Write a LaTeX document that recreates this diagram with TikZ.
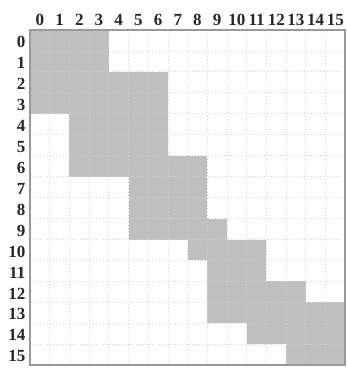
\documentclass[tikz,border=0pt]{standalone}
\usepackage{fontspec}
\setmainfont{Liberation Serif}
\usetikzlibrary{positioning}
\definecolor{blockcol}{gray}{0.75}
\definecolor{dotcol}{gray}{0.82}
\definecolor{framecol}{gray}{0.6}

\begin{document}
\begin{tikzpicture}[
    x=19.7pt, y=-20.95pt,
    block/.style={fill=blockcol},
    gridline/.style={draw=dotcol, line width=0.8pt, dash pattern=on 0.9pt off 2.4pt},
    frame/.style={draw=framecol, line width=1.6pt},
    lab/.style={font=\fontsize{17}{18}\selectfont\bfseries, text=black!85, inner sep=0pt},
]
\useasboundingbox (-30pt,30pt) rectangle (317pt,-339pt);
% blocks: row / first column / last column
\foreach \r/\a/\b in {0/0/3,1/0/3,2/0/6,3/0/6,4/2/6,5/2/6,6/2/8,7/5/8,8/5/8,9/5/9,10/8/11,11/9/11,12/9/13,13/9/15,14/11/15,15/13/15}
  \fill[block] (\a,\r) rectangle (\b+1,\r+1);
% dotted grid
\foreach \i in {1,...,15} {
  \draw[gridline] (\i,0) -- (\i,16);
  \draw[gridline] (0,\i) -- (16,\i);
}
\draw[frame] (0,0) rectangle (16,16);
% column and row numbers
\foreach \i in {0,...,15} {
  \node[lab, anchor=base, yshift=4pt] (c\i) at (\i+0.5,0) {\i};
  \node[lab, anchor=east, xshift=-4.5pt, yshift=-1.5pt] (r\i) at (0,\i+0.5) {\i};
}
\end{tikzpicture}
\end{document}
